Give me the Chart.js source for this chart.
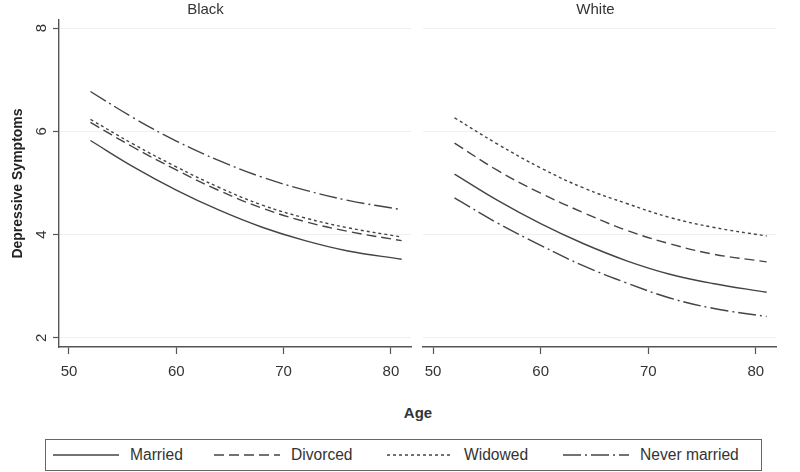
<!DOCTYPE html>
<html>
<head>
<meta charset="utf-8">
<script src="https://cdn.jsdelivr.net/npm/chart.js@4"></script>
<style>
  body { margin: 0; background: #fff; font-family: "Liberation Sans", Arial, sans-serif; color: #333; }
  #wrap { position: relative; width: 800px; height: 472px; overflow: hidden; }
  .panel { position: absolute; top: 0; height: 390px; }
  #xTitle { position: absolute; left: 368px; width: 100px; top: 404px; text-align: center; font-weight: bold; font-size: 15px; }
  #legend { position: absolute; left: 45px; top: 439px; width: 717px; height: 32px; border: 1px solid #666; box-sizing: border-box; }
  .item { position: absolute; top: 0; height: 30px; display: flex; align-items: center; font-size: 15.6px; color: #333; }
  .item svg { margin-right: 11px; }
</style>
</head>
<body>
<div id="wrap">
  <div class="panel" style="left:0; width:415px;"><canvas id="grafBlack"></canvas></div>
  <div class="panel" style="left:415px; width:385px;"><canvas id="grafWhite"></canvas></div>
  <div id="xTitle">Age</div>
  <div id="legend"></div>
</div>

<script>
// dados
var idades = [52, 56, 60, 64, 68, 72, 76, 81];
var grupos = ["Married", "Divorced", "Widowed", "Never married"];
var paineis = ["Black", "White"];

var blackMarried  = [5.82, 5.31, 4.86, 4.47, 4.14, 3.88, 3.68, 3.52];
var blackDivorced = [6.17, 5.69, 5.25, 4.85, 4.51, 4.25, 4.06, 3.88];
var blackWidowed  = [6.23, 5.75, 5.31, 4.91, 4.57, 4.32, 4.13, 3.95];
var blackNever    = [6.77, 6.26, 5.81, 5.43, 5.11, 4.86, 4.66, 4.48];

var whiteMarried  = [5.17, 4.66, 4.21, 3.82, 3.49, 3.23, 3.05, 2.88];
var whiteDivorced = [5.77, 5.24, 4.80, 4.42, 4.08, 3.82, 3.62, 3.47];
var whiteWidowed  = [6.26, 5.75, 5.29, 4.90, 4.60, 4.33, 4.14, 3.97];
var whiteNever    = [4.71, 4.22, 3.79, 3.39, 3.06, 2.77, 2.57, 2.41];

var xTicks = [50, 60, 70, 80];
var yTicks = [2, 4, 6, 8];

var tracos = [[], [10, 5], [3, 3], [18, 4, 2, 4]];
var corLinha = '#444';
var corEixo = '#555';

Chart.defaults.font.family = '"Liberation Sans", Arial, sans-serif';
Chart.defaults.color = '#333';

function serie(valores) {
    return idades.map(function(a, i) { return {x: a, y: valores[i]}; });
}

function montaGrafico(id, titulo, series, comEixoY) {
    var ctx = document.getElementById(id).getContext('2d');
    return new Chart(ctx, {
        type: 'line',
        data: {
            datasets: series.map(function(vals, i) {
                return {
                    label: grupos[i],
                    data: serie(vals),
                    borderColor: corLinha,
                    borderWidth: 1.4,
                    borderDash: tracos[i],
                    pointRadius: 0,
                    fill: false,
                    tension: 0.4
                };
            })
        },
        options: {
            responsive: true,
            maintainAspectRatio: false,
            animation: false,
            layout: { padding: { right: comEixoY ? 4 : 24 } },
            plugins: {
                legend: { display: false },
                tooltip: { enabled: false },
                title: {
                    display: true,
                    text: titulo,
                    font: { size: 15, weight: 'normal' },
                    color: '#333',
                    padding: { top: 1, bottom: 1 }
                }
            },
            scales: {
                x: {
                    type: 'linear',
                    min: 49.07,
                    max: 81.87,
                    afterBuildTicks: function(s) { s.ticks = xTicks.map(function(v) { return {value: v}; }); },
                    afterFit: function(s) { s.height = 43; },
                    ticks: { font: { size: 15 }, color: '#333', padding: 9, maxRotation: 0, autoSkip: false },
                    grid: { drawOnChartArea: false, drawTicks: true, tickLength: 7, tickColor: corEixo, tickWidth: 1.2 },
                    border: { display: true, color: corEixo, width: 1.4 }
                },
                y: {
                    min: 1.82,
                    max: 8.155,
                    afterBuildTicks: function(s) { s.ticks = yTicks.map(function(v) { return {value: v}; }); },
                    afterFit: function(s) { s.width = comEixoY ? 59 : 8; },
                    ticks: {
                        display: comEixoY,
                        font: { size: 15 },
                        color: '#333',
                        padding: 7,
                        minRotation: 90,
                        maxRotation: 90,
                        crossAlign: 'center'
                    },
                    grid: { color: '#efefef', lineWidth: 1, drawTicks: comEixoY, tickLength: 6, tickColor: corEixo, tickWidth: 1.2 },
                    border: { display: comEixoY, color: corEixo, width: 1.4 },
                    title: {
                        display: comEixoY,
                        text: 'Depressive Symptoms',
                        font: { size: 14, weight: 'bold' },
                        color: '#222',
                        padding: { top: 10, bottom: 0 }
                    }
                }
            }
        }
    });
}

window.charts = {};
window.charts.black = montaGrafico('grafBlack', paineis[0],
    [blackMarried, blackDivorced, blackWidowed, blackNever], true);
window.charts.white = montaGrafico('grafWhite', paineis[1],
    [whiteMarried, whiteDivorced, whiteWidowed, whiteNever], false);

// legenda em HTML
var posLegenda = [7, 168, 341, 517];
var leg = document.getElementById('legend');
grupos.forEach(function(g, i) {
    var div = document.createElement('div');
    div.className = 'item';
    div.style.left = posLegenda[i] + 'px';
    var svgNS = 'http://www.w3.org/2000/svg';
    var svg = document.createElementNS(svgNS, 'svg');
    svg.setAttribute('width', 66);
    svg.setAttribute('height', 10);
    var ln = document.createElementNS(svgNS, 'line');
    ln.setAttribute('x1', 0); ln.setAttribute('x2', 66);
    ln.setAttribute('y1', 5); ln.setAttribute('y2', 5);
    ln.setAttribute('stroke', corLinha);
    ln.setAttribute('stroke-width', 1.3);
    if (tracos[i].length) ln.setAttribute('stroke-dasharray', tracos[i].join(' '));
    svg.appendChild(ln);
    div.appendChild(svg);
    var txt = document.createElement('span');
    txt.textContent = g;
    div.appendChild(txt);
    leg.appendChild(div);
});
</script>
</body>
</html>
